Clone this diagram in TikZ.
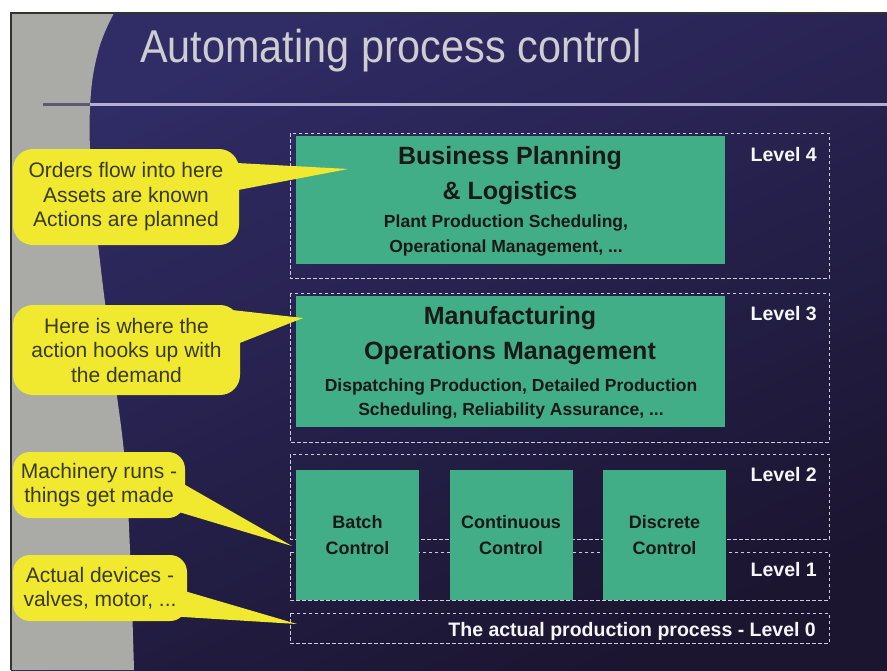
\documentclass[tikz,border=0pt]{standalone}
\usepackage{fontspec}
\setmainfont{Liberation Sans}
\usetikzlibrary{calc}

\definecolor{panelgray}{RGB}{170,170,166}
\definecolor{bgA}{RGB}{48,44,102}
\definecolor{bgB}{RGB}{27,21,48}
\definecolor{greenfill}{RGB}{66,174,136}
\definecolor{calloutyellow}{RGB}{240,233,48}
\definecolor{callouttext}{RGB}{58,58,22}
\definecolor{titlegray}{RGB}{205,205,210}
\definecolor{rulelight}{RGB}{178,175,208}
\definecolor{ruledark}{RGB}{92,90,114}
\definecolor{dashwhite}{RGB}{205,205,222}
\definecolor{frameline}{RGB}{50,50,50}

\begin{document}
\begin{tikzpicture}[x=1pt,y=-1pt,
  levelbox/.style={draw=dashwhite, line width=0.9pt, dash pattern=on 3.5pt off 2.5pt},
  greenbox/.style={fill=greenfill, draw=none, inner sep=0pt},
  callout/.style={fill=calloutyellow, draw=none, rounded corners=20pt, inner sep=0pt,
    align=center, text=callouttext, font=\fontsize{21}{24.5}\selectfont},
  pointer/.style={fill=calloutyellow, draw=none},
  boxhead/.style={font=\bfseries\fontsize{25}{29}\selectfont, text=black!90, anchor=base, inner sep=0pt},
  boxsub/.style={font=\bfseries\fontsize{17.5}{21}\selectfont, text=black!90, anchor=base, inner sep=0pt},
  ctrltext/.style={font=\bfseries\fontsize{18}{26}\selectfont, text=black!90, align=center},
  leveltext/.style={font=\bfseries\fontsize{19.5}{23}\selectfont, text=white!93!gray, anchor=base east, inner sep=0pt}
]
\useasboundingbox (0,0) rectangle (887,670);
\fill[white] (0,0) rectangle (887,670);

% slide background
\shade[top color=bgA, bottom color=bgB, shading angle=25] (11,13) rectangle (887,670);

% grey panel on the left with its curved edge
\fill[panelgray] (11,13) -- plot[smooth, tension=0.7] coordinates
  {(114,13) (98,52) (90,108) (92,180) (101,270) (115,380) (127,490) (134,670)}
  -- (11,670) -- cycle;

% frame
\draw[frameline, line width=1.2pt] (11,670) -- (11,13) -- (887,13);

% title and rule
\node[anchor=base west, inner sep=0pt, text=titlegray, xscale=0.9,
      font=\fontsize{46}{50}\selectfont] (title) at (140,62) {Automating process control};
\draw[ruledark, line width=3pt] (43,104) -- (90,104);
\draw[rulelight, line width=3pt] (90,104) -- (887,104);

% level frames
\draw[levelbox] (290,133) rectangle (829,278);
\draw[levelbox] (290,293) rectangle (829,442);
\draw[levelbox] (290,454) rectangle (829,539);
\draw[levelbox] (290,552) rectangle (829,600);
\draw[levelbox] (290,613) rectangle (829,643);

% level 4
\node[greenbox, minimum width=429pt, minimum height=128pt] (bpl) at (510.5,199.5) {};
\node[boxhead] (bpl1) at (510,164) {Business Planning};
\node[boxhead] (bpl2) at (510,199) {\& Logistics};
\node[boxsub] (bpl3) at (506,227) {Plant Production Scheduling,};
\node[boxsub] (bpl4) at (506,252) {Operational Management, ...};

% level 3
\node[greenbox, minimum width=429pt, minimum height=131pt] (mom) at (510.5,361.5) {};
\node[boxhead] (mom1) at (510,324) {Manufacturing};
\node[boxhead] (mom2) at (510,359) {Operations Management};
\node[boxsub] (mom3) at (511,391) {Dispatching Production, Detailed Production};
\node[boxsub] (mom4) at (511,415) {Scheduling, Reliability Assurance, ...};

% levels 2 and 1
\node[greenbox, minimum width=123pt, minimum height=130pt, ctrltext] (batch) at (357.5,535) {Batch\\Control};
\node[greenbox, minimum width=123pt, minimum height=130pt, ctrltext] (cont) at (511,535) {Continuous\\Control};
\node[greenbox, minimum width=123pt, minimum height=130pt, ctrltext] (disc) at (664.5,535) {Discrete\\Control};

% level labels
\node[leveltext] (l4) at (817,161) {Level 4};
\node[leveltext] (l3) at (817,320) {Level 3};
\node[leveltext] (l2) at (817,481) {Level 2};
\node[leveltext] (l1) at (817,576) {Level 1};
\node[leveltext] (l0) at (816,636) {The actual production process - Level 0};

% callouts
\node[callout, minimum width=226pt, minimum height=96pt] (c1) at (126,197)
  {Orders flow into here\\Assets are known\\Actions are planned};
\node[callout, minimum width=227pt, minimum height=90pt] (c2) at (126.5,350)
  {Here is where the\\action hooks up with\\the demand};
\node[callout, minimum width=172pt, minimum height=66pt, rounded corners=17pt] (c3) at (99,485)
  {Machinery runs -\\things get made};
\node[callout, minimum width=174pt, minimum height=66pt, rounded corners=17pt] (c4) at (100,588)
  {Actual devices -\\valves, motor, ...};

% callout pointers
\coordinate (t1) at (348,169);
\coordinate (t2) at (303,318);
\coordinate (t3) at (292,546);
\coordinate (t4) at (297,624);
\fill[pointer] ($(c1.north east)+(-6,14)$) -- (t1) -- ($(c1.north east)+(0,41)$) -- cycle;
\fill[pointer] ($(c2.north east)+(-28,3)$) -- (t2) -- ($(c2.north east)+(0,38)$) -- cycle;
\fill[pointer] ($(c3.north east)+(-2,32)$) -- (t3) -- ($(c3.north east)+(-7,60)$) -- cycle;
\fill[pointer] ($(c4.north east)+(0,37)$) -- (t4) -- ($(c4.north east)+(-7,62)$) -- cycle;
\end{tikzpicture}
\end{document}
